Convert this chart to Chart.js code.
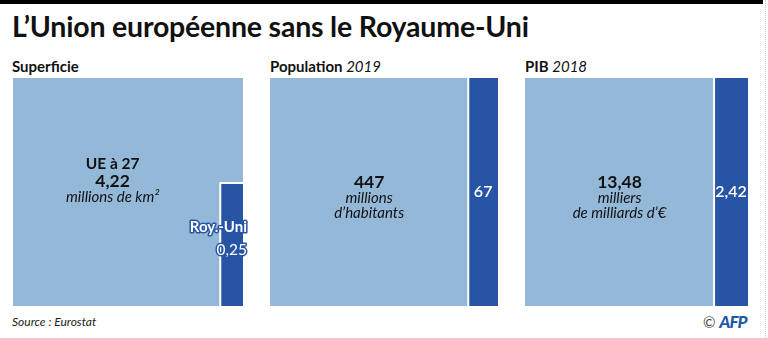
<!DOCTYPE html>
<html>
<head>
<meta charset="utf-8">
<script src="https://cdn.jsdelivr.net/npm/chart.js@4/dist/chart.umd.min.js"></script>
<style>
  body { margin: 0; background: #fff; font-family: Lato, sans-serif; }
  #wrap { position: relative; width: 768px; height: 338px; overflow: hidden; }
  #topbar { position: absolute; left: 0; top: 0; width: 763px; height: 4px; background: #000; }
  #edge { position: absolute; left: 765px; top: 0; height: 338px; border-left: 1px dotted #ccc; }
  #title { position: absolute; left: 12px; top: 9px; font-size: 28.5px; font-weight: bold; color: #111; letter-spacing: -0.2px; }
  .head { position: absolute; top: 57px; font-size: 15px; font-weight: bold; color: #111; }
  .head i { font-weight: normal; }
  .box { position: absolute; top: 78px; height: 228px; }
  #source { position: absolute; left: 12px; top: 314px; font-size: 12px; font-style: italic; color: #222; }
  #afp { position: absolute; left: 703px; top: 311px; font-size: 15px; color: #444; }
  #afp b { font-style: italic; font-weight: 900; color: #1f5aa8; font-size: 17px; letter-spacing: -1px; }
</style>
</head>
<body>
<div id="wrap">
  <div id="topbar"></div>
  <div id="edge"></div>
  <div id="title">L’Union européenne sans le Royaume-Uni</div>
  <div class="head" style="left:12px">Superficie</div>
  <div class="head" style="left:270px">Population <i>2019</i></div>
  <div class="head" style="left:525px">PIB <i>2018</i></div>
  <div class="box" style="left:13px;width:240px"><canvas id="c0"></canvas></div>
  <div class="box" style="left:270px;width:228px"><canvas id="c1"></canvas></div>
  <div class="box" style="left:525px;width:223px"><canvas id="c2"></canvas></div>
  <div id="source">Source : Eurostat</div>
  <div id="afp">© <b>AFP</b></div>
</div>
<script>
// values
const euValues = [4.22, 447, 13.48];
const ukValues = [0.25, 67, 2.42];
const euLabels = ["4,22", "447", "13,48"];
const ukLabels = ["0,25", "67", "2,42"];
const euUnits = [["millions de km²"], ["millions", "d’habitants"], ["milliers", "de milliards d’€"]];

// height of the UK block as a share of the panel height
const ukHeights = [0.54, 1, 1];
const padRight = [10, 0, 0];

const EU_BLUE = "#94b8d8";
const UK_BLUE = "#2854a5";

function makeChart(i) {
  const eu = euValues[i];
  const h = ukHeights[i];
  const xMax = eu + ukValues[i] / h;

  const sep = [{x: eu, y: 0}, {x: eu, y: h}];
  if (h < 1) sep.push({x: xMax, y: h});

  const labels = {
    id: "labels" + i,
    afterDatasetsDraw(chart) {
      const c = chart.ctx;
      const xs = chart.scales.x, ys = chart.scales.y;
      const euX = (xs.getPixelForValue(0) + xs.getPixelForValue(eu)) / 2;
      const midY = ys.getPixelForValue(0.5);
      c.save();
      c.textAlign = "center";
      c.fillStyle = "#111";
      if (i === 0) {
        c.font = "bold 15.5px Lato";
        c.fillText("UE à 27", euX - 4, midY - 23);
        c.font = "bold 17.5px Lato";
        c.fillText(euLabels[i], euX - 4, midY - 5);
        c.font = "italic 15px Lato";
        c.fillText(euUnits[i][0], euX - 4, midY + 10);
      } else {
        c.font = "bold 17.5px Lato";
        c.fillText(euLabels[i], euX, midY - 4);
        c.font = "italic 15px Lato";
        euUnits[i].forEach((t, k) => c.fillText(t, euX, midY + 11 + k * 15));
      }
      const ukL = xs.getPixelForValue(eu), ukR = xs.getPixelForValue(xMax);
      const ukMid = ys.getPixelForValue(h / 2);
      c.fillStyle = "#fff";
      if (h < 1) {
        c.textAlign = "right";
        c.strokeStyle = UK_BLUE;
        c.lineWidth = 3;
        c.lineJoin = "round";
        c.font = "bold 15px Lato";
        c.strokeText("Roy.-Uni", ukR + 4, ukMid - 12);
        c.fillText("Roy.-Uni", ukR + 4, ukMid - 12);
        c.font = "15.5px Lato";
        c.strokeText(ukLabels[i], ukR + 4, ukMid + 11);
        c.fillText(ukLabels[i], ukR + 4, ukMid + 11);
      } else {
        c.font = "600 16px Lato";
        c.textBaseline = "middle";
        c.fillText(ukLabels[i], (ukL + ukR) / 2, ukMid);
      }
      c.restore();
    }
  };

  return new Chart(document.getElementById("c" + i), {
    type: "scatter",
    data: {
      datasets: [
        {
          label: "UE",
          data: [{x: 0, y: 1}, {x: xMax, y: 1}],
          showLine: true, fill: "origin",
          backgroundColor: EU_BLUE, borderWidth: 0, pointRadius: 0,
          order: 3
        },
        {
          label: "Royaume-Uni",
          data: [{x: eu, y: h}, {x: xMax, y: h}],
          showLine: true, fill: "origin",
          backgroundColor: UK_BLUE, borderWidth: 0, pointRadius: 0,
          order: 2
        },
        {
          label: "sep",
          data: sep,
          showLine: true, fill: false,
          borderColor: "#fff", borderWidth: 2, pointRadius: 0,
          order: 1
        }
      ]
    },
    options: {
      responsive: true,
      maintainAspectRatio: false,
      animation: false,
      layout: { padding: { left: 0, right: padRight[i], top: 0, bottom: 0 } },
      plugins: { legend: { display: false }, tooltip: { enabled: false } },
      scales: {
        x: { type: "linear", min: 0, max: xMax, display: false },
        y: { type: "linear", min: 0, max: 1, display: false }
      }
    },
    plugins: [labels]
  });
}

[0, 1, 2].forEach(makeChart);
</script>
</body>
</html>
